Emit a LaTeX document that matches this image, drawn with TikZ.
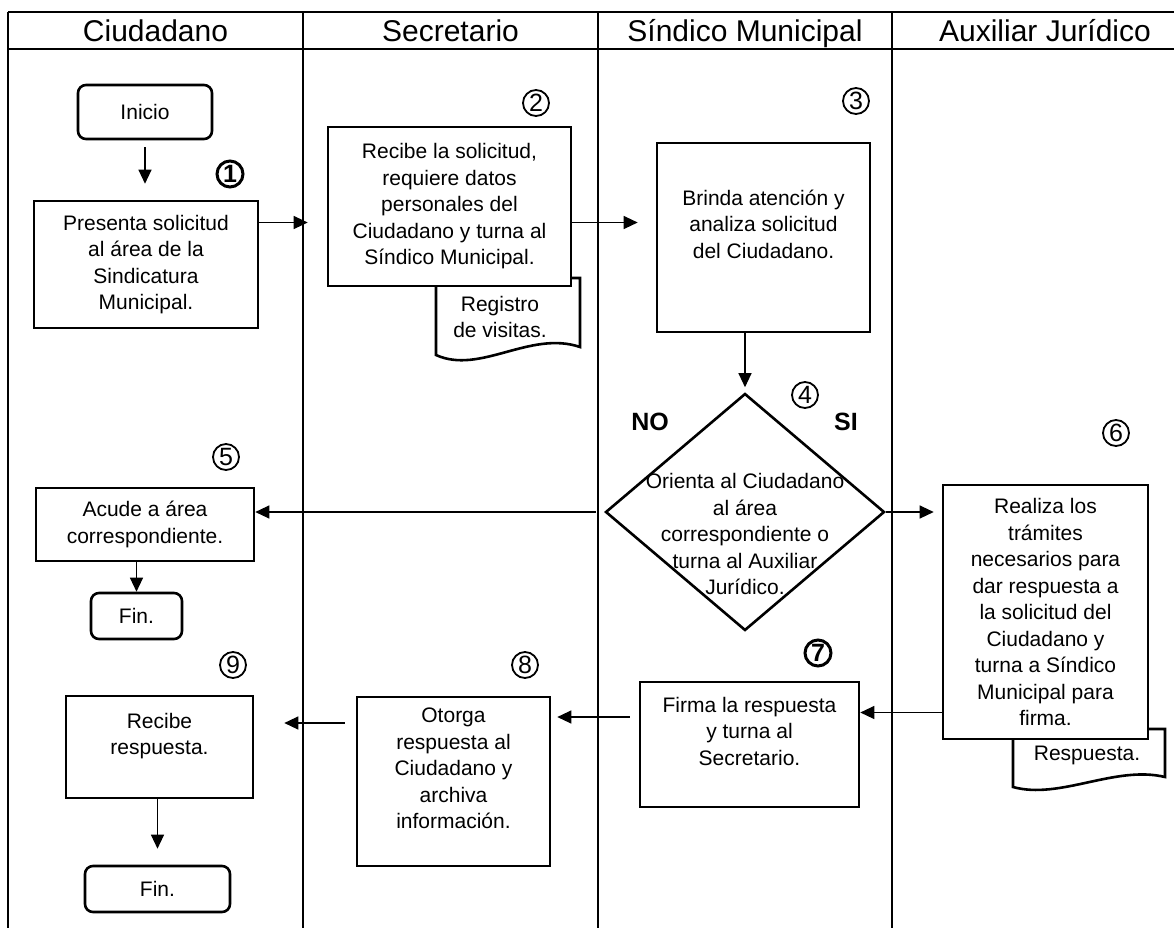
\documentclass[tikz,border=0pt]{standalone}
\usepackage{fontspec}
\setmainfont{Liberation Sans}
\usetikzlibrary{arrows.meta,shapes.geometric}

\newcommand{\cuerpo}{\fontsize{10.5}{13.25}\selectfont}
\newcommand{\titulo}{\fontsize{15}{18}\selectfont}

\tikzset{
  carril/.style={line width=1.1pt},
  caja/.style={draw,line width=1.3pt,fill=white,align=center,font=\cuerpo,inner sep=2pt},
  terminal/.style={caja,rounded corners=4pt},
  decision/.style={diamond,draw,line width=1.3pt,fill=white,inner sep=0pt},
  documento/.style={line width=1.3pt,fill=white},
  paso/.style={circle,draw,line width=0.9pt,minimum size=13pt,inner sep=0pt,font=\fontsize{12.5}{14}\selectfont},
  pasob/.style={paso,line width=1.5pt,font=\fontsize{12.5}{14}\selectfont\bfseries},
  encabezado/.style={font=\titulo,anchor=base},
  flecha/.style={line width=0.6pt,-{Triangle[length=7pt,width=6.5pt]}},
}

\begin{document}
\begin{tikzpicture}[x=0.5pt,y=-0.5pt]
  \useasboundingbox (0,0) rectangle (1174,928);
  \fill[white] (0,0) rectangle (1174,928);

  % carriles
  \draw[carril] (8,12) -- (1174,12);
  \draw[carril] (8,49) -- (1174,49);
  \foreach \x in {8,303,598,892}
    \draw[carril] (\x,12) -- (\x,928);
  \node[encabezado] (ciudadano) at (155.5,41) {Ciudadano};
  \node[encabezado] (secretario) at (450.5,41) {Secretario};
  \node[encabezado] (sindico) at (745,41) {Síndico Municipal};
  \node[encabezado] (auxiliar) at (1045,41) {Auxiliar Jurídico};

  % documentos
  \draw[documento] (436,278) -- (436,355) .. controls (480,375) and (530,330) .. (580,347) -- (580,278) -- cycle;
  \node[font=\cuerpo,align=center] (registro) at (500,317) {Registro\\de visitas.};
  \draw[documento] (1013,729) -- (1013,787) .. controls (1060,800) and (1115,765) .. (1165,777) -- (1165,729) -- cycle;
  \node[font=\cuerpo] (respuesta) at (1087,755) {Respuesta.};

  % pasos
  \node[terminal,minimum width=67pt,minimum height=27pt] (inicio) at (145,112) {Inicio};
  \node[caja,minimum width=112pt,minimum height=63.5pt] (presenta) at (146,264.5)
    {Presenta solicitud\\al área de la\\Sindicatura\\Municipal.};
  \node[caja,minimum width=121.5pt,minimum height=79.5pt] (recibe) at (449.5,206.5)
    {Recibe la solicitud,\\requiere datos\\personales del\\Ciudadano y turna al\\Síndico Municipal.};
  \node[caja,minimum width=106.5pt,minimum height=94.5pt] (brinda) at (763.5,237.5)
    {Brinda atención y\\analiza solicitud\\del Ciudadano.\\};
  \node[decision,minimum width=139.5pt,minimum height=118.5pt,
    label={[font=\cuerpo,align=center,yshift=-11pt]center:Orienta al Ciudadano\\al área\\correspondiente o\\turna al Auxiliar\\Jurídico.}]
    (orienta) at (745,512) {};
  \node[caja,minimum width=109pt,minimum height=36.5pt] (acude) at (145,524.5)
    {Acude a área\\correspondiente.};
  \node[terminal,minimum width=45.5pt,minimum height=23pt] (finA) at (136.5,616) {Fin.};
  \node[caja,minimum width=102.5pt,minimum height=127pt] (realiza) at (1045.5,612)
    {Realiza los\\trámites\\necesarios para\\dar respuesta a\\la solicitud del\\Ciudadano y\\turna a Síndico\\Municipal para\\firma.};
  \node[caja,minimum width=109.5pt,minimum height=62.5pt] (firma) at (749.5,744.5)
    {Firma la respuesta\\y turna al\\Secretario.\\};
  \node[caja,minimum width=96.5pt,minimum height=84.5pt] (otorga) at (453.5,781.5)
    {Otorga\\respuesta al\\Ciudadano y\\archiva\\información.\\};
  \node[caja,minimum width=93.5pt,minimum height=51pt] (recibeR) at (159.5,747)
    {Recibe\\respuesta.\\};
  \node[terminal,minimum width=72.5pt,minimum height=23pt] (finB) at (157.5,889) {Fin.};

  \node[font=\fontsize{12.5}{15}\selectfont\bfseries] (no) at (650,422) {NO};
  \node[font=\fontsize{12.5}{15}\selectfont\bfseries] (si) at (846,422) {SI};

  % numeros
  \node[pasob] (p1) at (230,174) {1};
  \node[paso] (p2) at (536,103) {2};
  \node[paso] (p3) at (856,101) {3};
  \node[paso] (p4) at (805,395) {4};
  \node[paso] (p5) at (226,457) {5};
  \node[paso] (p6) at (1116,433) {6};
  \node[pasob] (p7) at (818,653) {7};
  \node[paso] (p8) at (525,665) {8};
  \node[paso] (p9) at (233,665) {9};

  % flechas
  \draw[flecha,shorten <=3.5pt,shorten >=8pt] (inicio.south) -- (inicio.south |- presenta.north);
  \draw[flecha,shorten >=9.5pt] ([yshift=21pt]presenta.east) -- ([yshift=21pt]presenta.east -| recibe.west);
  \draw[flecha,shorten >=9pt] ([yshift=-8pt]recibe.east) -- ([yshift=-8pt]recibe.east -| brinda.west);
  \draw[flecha,shorten >=2.5pt] (brinda.south -| orienta.north) -- (orienta.north);
  \draw[flecha,shorten <=4pt] (orienta.west) -- (orienta.west -| acude.east);
  \draw[flecha,shorten >=4pt] (orienta.east) -- (orienta.east -| realiza.west);
  \draw[flecha] (finA.north |- acude.south) -- (finA.north);
  \draw[flecha] ([yshift=16pt]firma.east -| realiza.west) -- ([yshift=16pt]firma.east);
  \draw[flecha,shorten <=4.5pt,shorten >=3pt] ([yshift=13.75pt]firma.west) -- ([yshift=13.75pt]firma.west -| otorga.east);
  \draw[flecha,shorten <=5.5pt,shorten >=15pt] ([yshift=29.25pt]otorga.west) -- ([yshift=29.25pt]otorga.west -| recibeR.east);
  \draw[flecha,shorten >=8pt] (recibeR.south -| finB.north) -- (finB.north);
\end{tikzpicture}
\end{document}
